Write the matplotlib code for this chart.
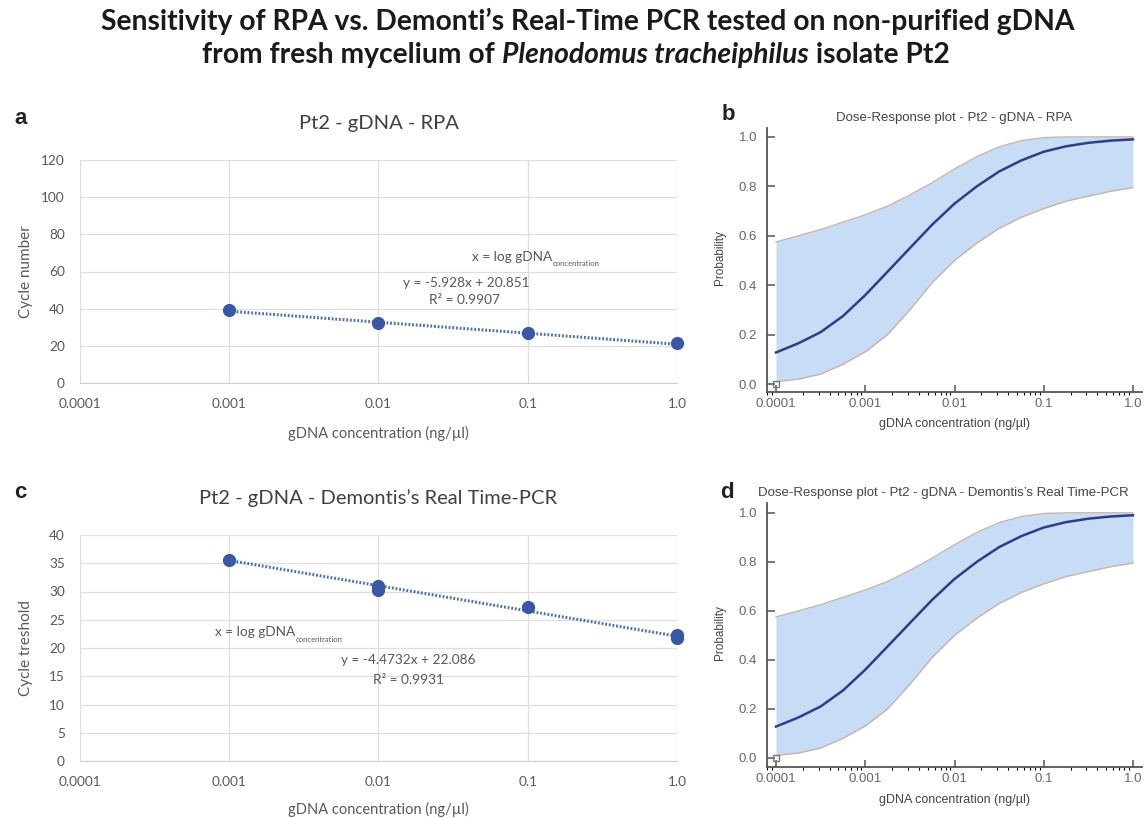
import numpy as np
import matplotlib
matplotlib.use('Agg')
import matplotlib.pyplot as plt
from matplotlib.ticker import NullLocator, LogLocator, NullFormatter

# ---- data ----
conc_ticks = [0.0001, 0.001, 0.01, 0.1, 1.0]
conc_labels = ['0.0001', '0.001', '0.01', '0.1', '1.0']

# panel a: RPA
rpa_conc = [0.001, 0.01, 0.1, 1.0]
rpa_cycles = [39.5, 32.3, 26.8, 21.4]
rpa_slope, rpa_icpt = -5.928, 20.851

# panel c: Demontis real-time PCR (replicates at 0.01 and 1.0)
pcr_conc = [0.001, 0.01, 0.01, 0.1, 1.0, 1.0]
pcr_ct = [35.6, 30.2, 30.9, 27.2, 21.7, 22.3]
pcr_slope, pcr_icpt = -4.4732, 22.086

# panels b / d: dose-response curves (read at quarter decades)
dr_conc = [1e-4, 1.78e-4, 3.16e-4, 5.62e-4, 1e-3, 1.78e-3, 3.16e-3, 5.62e-3,
           1e-2, 1.78e-2, 3.16e-2, 5.62e-2, 0.1, 0.178, 0.316, 0.562, 1.0]
dr_prob = [0.128, 0.165, 0.21, 0.275, 0.36, 0.455, 0.55, 0.645,
           0.73, 0.80, 0.86, 0.905, 0.94, 0.962, 0.976, 0.985, 0.99]
dr_lower = [0.01, 0.02, 0.04, 0.08, 0.13, 0.20, 0.30, 0.41,
            0.50, 0.57, 0.63, 0.675, 0.71, 0.74, 0.76, 0.78, 0.795]
dr_upper = [0.575, 0.60, 0.625, 0.655, 0.685, 0.72, 0.765, 0.815,
            0.87, 0.92, 0.96, 0.985, 0.997, 1.0, 1.0, 1.0, 1.0]

W, H = 1147, 818
fig = plt.figure(figsize=(W / 100, H / 100), dpi=100)


def box(l, t, r, b):
    return [l / W, 1 - b / H, (r - l) / W, (b - t) / H]


EX_FONT = 'Lato'
GP_FONT = 'Liberation Sans'
EX_GRAY = '#595959'


def excel_panel(rect, xs, ys, slope, icpt, ymax, ystep, ylabel, title, xlab_y):
    ax = fig.add_axes(rect)
    ax.set_xscale('log')
    ax.set_xlim(1e-4, 1)
    ax.set_ylim(0, ymax)
    ax.set_yticks(np.arange(0, ymax + 0.1, ystep))
    ax.set_xticks(conc_ticks)
    ax.set_xticklabels(conc_labels)
    ax.xaxis.set_minor_locator(NullLocator())
    ax.grid(True, color='#dedede', lw=0.9)
    ax.set_axisbelow(True)
    for s in ['top', 'right', 'left']:
        ax.spines[s].set_visible(False)
    ax.spines['bottom'].set_color('#d0d0d0')
    ax.tick_params(length=0, labelsize=9.8, colors=EX_GRAY)
    ax.tick_params(axis='y', pad=11)
    ax.tick_params(axis='x', pad=11)
    for lab in ax.get_xticklabels() + ax.get_yticklabels():
        lab.set_family(EX_FONT)
    tx = np.array([xs[0], xs[-1]])
    ax.plot(tx, slope * np.log10(tx) + icpt, ls=(0, (0.6, 0.6)),
            color='#4a6fc0', lw=2.2, zorder=3)
    ax.plot(xs, ys, 'o', ms=8.5, color='#3857a6', clip_on=False, zorder=5)
    ax.set_ylabel(ylabel, family=EX_FONT, fontsize=11, color=EX_GRAY)
    ax.yaxis.set_label_coords(-0.079, 0.5)
    ax.set_xlabel('gDNA concentration (ng/µl)', family=EX_FONT,
                  fontsize=10.5, color=EX_GRAY)
    ax.xaxis.set_label_coords(0.5, xlab_y)
    ax.set_title(title, family=EX_FONT, fontsize=14.5, color='#404040', pad=22)
    return ax


def dose_panel(rect, title, ylo, yhi, xlab_y, title_x):
    ax = fig.add_axes(rect)
    ax.set_xscale('log')
    ax.set_xlim(10 ** -4.101, 10 ** 0.101)
    ax.set_ylim(ylo, yhi)
    ax.fill_between(dr_conc, dr_lower, dr_upper, color='#c6ddf5', lw=0)
    ax.plot(dr_conc, dr_lower, color='#c9b3ad', lw=1.0)
    ax.plot(dr_conc, dr_upper, color='#c9b3ad', lw=1.0)
    ax.plot(dr_conc, dr_prob, color='#2d3c8e', lw=1.8)
    ax.plot([1e-4], [0.0], 's', ms=5, mfc='none', mec='#777777', mew=1,
            clip_on=False)
    for s in ['top', 'right']:
        ax.spines[s].set_visible(False)
    for s in ['left', 'bottom']:
        ax.spines[s].set_color('#555555')
        ax.spines[s].set_linewidth(1.3)
    ax.set_xticks(conc_ticks)
    ax.set_xticklabels(conc_labels)
    ax.xaxis.set_minor_locator(LogLocator(base=10, subs=np.arange(2, 10)))
    ax.xaxis.set_minor_formatter(NullFormatter())
    ax.set_yticks([0, 0.2, 0.4, 0.6, 0.8, 1.0])
    ax.set_yticklabels(['0.0', '0.2', '0.4', '0.6', '0.8', '1.0'])
    ax.tick_params(direction='in', colors='#555555', labelcolor='#666666',
                   labelsize=9.5, width=1.1)
    ax.tick_params(axis='x', which='major', length=5, pad=4)
    ax.tick_params(axis='x', which='minor', length=2.5, width=0.8)
    ax.tick_params(axis='y', length=6, pad=7)
    for lab in ax.get_xticklabels() + ax.get_yticklabels():
        lab.set_family(GP_FONT)
    ax.set_ylabel('Probability', family=GP_FONT, fontsize=8.5, color='#444444')
    ax.yaxis.set_label_coords(-0.109, 0.51)
    ax.set_xlabel('gDNA concentration (ng/µl)', family=GP_FONT, fontsize=9,
                  color='#444444')
    ax.xaxis.set_label_coords(0.5, xlab_y)
    ax.set_title(title, family=GP_FONT, fontsize=9.5, color='#444444', pad=5,
                 x=title_x)
    return ax


ax_a = excel_panel(box(80, 160, 677, 383), rpa_conc, rpa_cycles, rpa_slope,
                   rpa_icpt, 120, 20, 'Cycle number', 'Pt2 - gDNA - RPA', -0.193)
ax_c = excel_panel(box(80, 535, 677, 761), pcr_conc, pcr_ct, pcr_slope,
                   pcr_icpt, 40, 5, 'Cycle treshold',
                   'Pt2 - gDNA - Demontis\u2019s Real Time-PCR', -0.18)
ax_b = dose_panel(box(767, 128, 1142, 392),
                  'Dose-Response plot - Pt2 - gDNA - RPA', -0.032, 1.036,
                  -0.098, 0.5)
ax_d = dose_panel(box(767, 503, 1142, 767),
                  'Dose-Response plot - Pt2 - gDNA - Demontis\u2019s Real Time-PCR',
                  -0.037, 1.04, -0.102, 0.47)


def ftext(x, y, s, **kw):
    return fig.text(x / W, 1 - y / H, s, **kw)


# regression annotations
eq_kw = dict(family=EX_FONT, color=EX_GRAY, va='center')
ftext(552, 257, 'x = log gDNA', ha='right', fontsize=9.8, **eq_kw)
ftext(553, 264, 'concentration', ha='left', fontsize=5.5, **eq_kw)
ftext(466, 283, 'y = -5.928x + 20.851', ha='center', fontsize=9.8, **eq_kw)
ftext(464, 300, 'R\u00b2 = 0.9907', ha='center', fontsize=9.8, **eq_kw)

ftext(295, 632, 'x = log gDNA', ha='right', fontsize=9.8, **eq_kw)
ftext(296, 639, 'concentration', ha='left', fontsize=5.5, **eq_kw)
ftext(408, 660, 'y = -4.4732x + 22.086', ha='center', fontsize=9.8, **eq_kw)
ftext(408, 680, 'R\u00b2 = 0.9931', ha='center', fontsize=9.8, **eq_kw)

# panel letters
for (x, y, s) in [(14, 118, 'a'), (722, 115, 'b'), (14, 493, 'c'), (720, 493, 'd')]:
    ftext(x, y, s, fontsize=16, fontweight='bold', family=GP_FONT,
          ha='left', va='center', color='#222222')

# main title, two lines, second with italic species name
TITLE_SIZE = 20.3
ftext(588, 21, 'Sensitivity of RPA vs. Demonti\u2019s Real-Time PCR tested on non-purified gDNA',
      ha='center', va='center', fontsize=TITLE_SIZE, fontweight='bold',
      family=EX_FONT, color='#1a1a1a')

parts = [('from fresh mycelium of ', 'normal'),
         ('Plenodomus tracheiphilus', 'italic'),
         (' isolate Pt2', 'normal')]
texts = [ftext(0, 55, s, ha='left', va='center', fontsize=TITLE_SIZE,
               fontweight='bold', style=st, family=EX_FONT, color='#1a1a1a')
         for s, st in parts]
fig.canvas.draw()
rend = fig.canvas.get_renderer()
widths = [t.get_window_extent(rend).width for t in texts]
x0 = 576 - sum(widths) / 2
for t, w in zip(texts, widths):
    t.set_x(x0 / W)
    x0 += w

fig.savefig('out.png', dpi=100)
